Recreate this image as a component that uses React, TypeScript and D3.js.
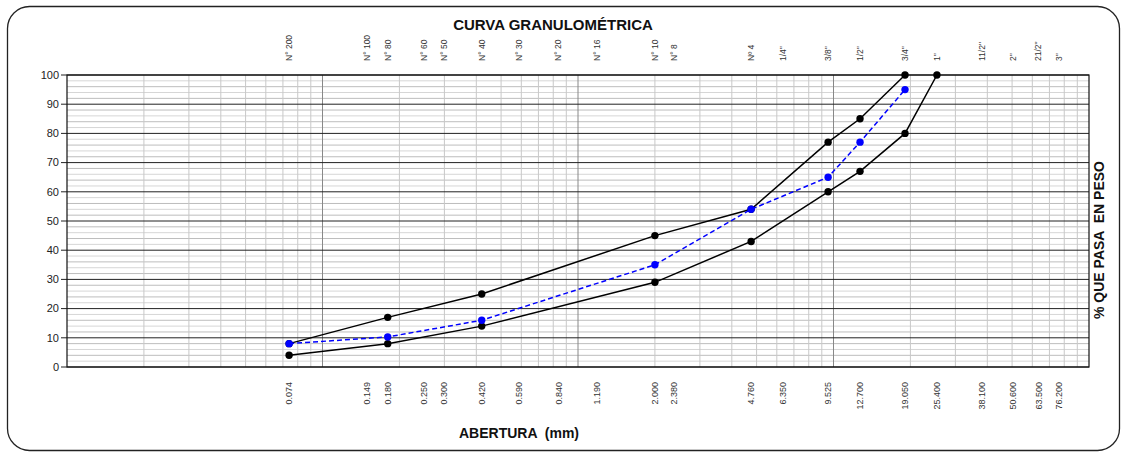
import React from "react";
import * as d3 from "d3";

// Sieve openings (mm) and their designations
const sieveNames = ["N° 200", "N° 100", "N° 80", "N° 60", "N° 50", "N° 40", "N° 30", "N° 20", "N° 16", "N° 10", "N° 8", "Nº 4", "1/4\"", "3/8\"", "1/2\"", "3/4\"", "1\"", "11/2\"", "2\"", "21/2\"", "3\""];
const sieveOpenings = [0.074, 0.149, 0.18, 0.25, 0.3, 0.42, 0.59, 0.84, 1.19, 2.0, 2.38, 4.76, 6.35, 9.525, 12.7, 19.05, 25.4, 38.1, 50.6, 63.5, 76.2];
const openingLabels = ["0.074", "0.149", "0.180", "0.250", "0.300", "0.420", "0.590", "0.840", "1.190", "2.000", "2.380", "4.760", "6.350", "9.525", "12.700", "19.050", "25.400", "38.100", "50.600", "63.500", "76.200"];

// Specification band limits
const upperSizes = [0.074, 0.18, 0.42, 2.0, 4.76, 9.525, 12.7, 19.05];
const upperPassing = [8, 17, 25, 45, 54, 77, 85, 100];
const lowerSizes = [0.074, 0.18, 0.42, 2.0, 4.76, 9.525, 12.7, 19.05, 25.4];
const lowerPassing = [4, 8, 14, 29, 43, 60, 67, 80, 100];

// Sample gradation
const sampleSizes = [0.074, 0.18, 0.42, 2.0, 4.76, 9.525, 12.7, 19.05];
const samplePassing = [8, 10.3, 16, 35, 54, 65, 77, 95];

const yTicks = [0, 10, 20, 30, 40, 50, 60, 70, 80, 90, 100];

const W = 1122;
const H = 452;
const left = 67;
const right = 1089;
const top = 75;
const bottom = 367;
const FONT = "Liberation Sans, Arial, sans-serif";

export default function App() {
  const x = d3.scaleLog().domain([0.01, 100]).range([left, right]);
  const y = d3.scaleLinear().domain([0, 100]).range([bottom, top]);

  // log grid lines: 2..9 in every decade, decades darker
  const minorX: number[] = [];
  const decadeX: number[] = [];
  [0.01, 0.1, 1, 10].forEach((d, i) => {
    if (i > 0) decadeX.push(d);
    for (let k = 2; k <= 9; k++) minorX.push(d * k);
  });
  const minorY = d3.range(2, 100, 2).filter((v) => v % 10 !== 0);

  const line = d3
    .line<[number, number]>()
    .x((d) => x(d[0]))
    .y((d) => y(d[1]));

  const upper = upperSizes.map((s, i) => [s, upperPassing[i]] as [number, number]);
  const lower = lowerSizes.map((s, i) => [s, lowerPassing[i]] as [number, number]);
  const sample = sampleSizes.map((s, i) => [s, samplePassing[i]] as [number, number]);

  return (
    <svg
      width={W}
      height={H}
      style={{ position: "absolute", left: 0, top: 0, display: "block", background: "#fff" }}
      fontFamily={FONT}
    >
      <rect x={7.5} y={6.5} width={1112} height={444} rx={22} ry={22} fill="#fff" stroke="#222" strokeWidth={1.3} />

      <text x={553} y={30} textAnchor="middle" fontSize={15} fontWeight="bold" fill="#111">
        CURVA GRANULOMÉTRICA
      </text>

      {/* horizontal grid */}
      {minorY.map((v) => (
        <line key={"hy" + v} x1={left} x2={right} y1={y(v)} y2={y(v)} stroke={v % 4 === 0 ? "#bdbdbd" : "#d6d6d6"} strokeWidth={1} />
      ))}
      {/* vertical grid */}
      {minorX.map((v) => (
        <line key={"vx" + v} x1={x(v)} x2={x(v)} y1={top} y2={bottom} stroke="#c8c8c8" strokeWidth={1} />
      ))}
      {decadeX.map((v) => (
        <line key={"dx" + v} x1={x(v)} x2={x(v)} y1={top} y2={bottom} stroke="#888" strokeWidth={1} />
      ))}
      {yTicks.map((v) => (
        <line key={"my" + v} x1={left - 6} x2={right} y1={y(v)} y2={y(v)} stroke="#222" strokeWidth={1} />
      ))}
      <rect x={left} y={top} width={right - left} height={bottom - top} fill="none" stroke="#111" strokeWidth={1.2} />

      {/* y axis labels */}
      {yTicks.map((v) => (
        <text key={"yl" + v} x={left - 8} y={y(v)} dy="0.35em" textAnchor="end" fontSize={11} fill="#222">
          {v}
        </text>
      ))}

      {/* sieve designations on top */}
      {sieveOpenings.map((s, i) => (
        <text
          key={"tn" + i}
          transform={`translate(${x(s)},61) rotate(-90)`}
          dy="0.33em"
          textAnchor="start"
          fontSize={8.5}
          fill="#333"
        >
          {sieveNames[i]}
        </text>
      ))}

      {/* openings along the bottom */}
      {sieveOpenings.map((s, i) => (
        <text
          key={"bn" + i}
          transform={`translate(${x(s)},382) rotate(-90)`}
          dy="0.33em"
          textAnchor="end"
          fontSize={9}
          fill="#333"
        >
          {openingLabels[i]}
        </text>
      ))}

      {/* curves */}
      <path d={line(lower) || ""} fill="none" stroke="#000" strokeWidth={1.5} />
      <path d={line(upper) || ""} fill="none" stroke="#000" strokeWidth={1.5} />
      {lower.map((d, i) => (
        <circle key={"lc" + i} cx={x(d[0])} cy={y(d[1])} r={3.7} fill="#000" />
      ))}
      {upper.map((d, i) => (
        <circle key={"uc" + i} cx={x(d[0])} cy={y(d[1])} r={3.7} fill="#000" />
      ))}
      <path d={line(sample) || ""} fill="none" stroke="#0000ff" strokeWidth={1.5} strokeDasharray="5,3" />
      {sample.map((d, i) => (
        <circle key={"sc" + i} cx={x(d[0])} cy={y(d[1])} r={3.7} fill="#0000ff" />
      ))}

      <text x={519} y={438} textAnchor="middle" fontSize={14} fontWeight="bold" fill="#111" style={{ whiteSpace: "pre" }}>
        {"ABERTURA  (mm)"}
      </text>
      <text transform="translate(1104,240) rotate(-90)" textAnchor="middle" fontSize={14} fontWeight="bold" fill="#111" style={{ whiteSpace: "pre" }}>
        {"% QUE PASA  EN PESO"}
      </text>
    </svg>
  );
}
